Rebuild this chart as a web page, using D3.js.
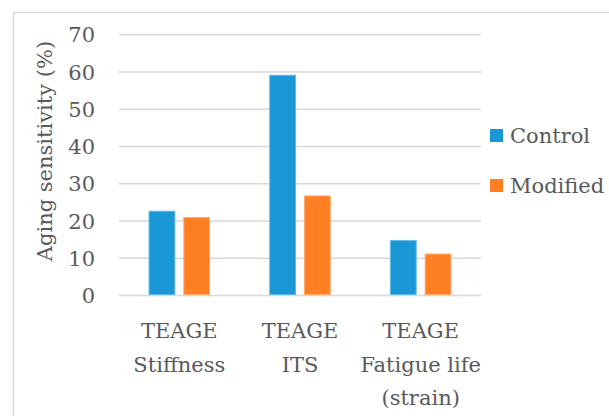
<!DOCTYPE html>
<html>
<head>
<meta charset="utf-8">
<script src="https://cdn.jsdelivr.net/npm/d3@7"></script>
<style>
  html, body { margin: 0; padding: 0; background: #fff; }
  svg { display: block; }
  text { font-family: "DejaVu Serif", "Liberation Serif", serif; fill: #595959; }
</style>
</head>
<body>
<svg id="chart" width="609" height="416"></svg>
<script>
const categories = [["TEAGE", "Stiffness"], ["TEAGE", "ITS"], ["TEAGE", "Fatigue life", "(strain)"]];
const seriesNames = ["Control", "Modified"];
const controlValues = [22.5, 59.0, 14.6];
const modifiedValues = [20.8, 26.6, 11.0];
const yTicks = [0, 10, 20, 30, 40, 50, 60, 70];
const yTitle = "Aging sensitivity (%)";
const colors = ["#1a98d5", "#ff7f22"];
const strokes = ["#5fb8e6", "#ffab6e"];

const svg = d3.select("#chart");
const fs = 21;

// frame
svg.append("rect").attr("x", 13.5).attr("y", 12.5).attr("width", 620).attr("height", 420)
  .attr("fill", "none").attr("stroke", "#d9d9d9").attr("stroke-width", 1.5);

const plot = { left: 119, right: 481, top: 34.3, bottom: 295 };
const y = d3.scaleLinear().domain([0, 70]).range([plot.bottom, plot.top]);
const x = d3.scaleBand().domain(d3.range(categories.length)).range([plot.left, plot.right])
  .paddingInner(0.49).paddingOuter(0.245);
const xs = d3.scaleBand().domain(seriesNames).range([0, x.bandwidth()]).paddingInner(0.23);

// gridlines
const yAxis = d3.axisLeft(y).tickValues(yTicks).tickSize(-(plot.right - plot.left)).tickPadding(24);
const gy = svg.append("g").attr("transform", `translate(${plot.left},0)`).call(yAxis);
gy.select(".domain").remove();
gy.selectAll(".tick line").attr("stroke", "#d9d9d9").attr("stroke-width", 1.5);
gy.selectAll(".tick text").attr("font-size", fs).attr("fill", "#595959")
  .attr("font-family", '"DejaVu Serif", "Liberation Serif", serif').attr("dy", "0.36em");

// bars
const series = [controlValues, modifiedValues];
const data = [];
categories.forEach((c, i) => seriesNames.forEach((s, j) => data.push({ i, s, j, v: series[j][i] })));
svg.append("g").selectAll("rect").data(data).join("rect")
  .attr("x", d => x(d.i) + xs(d.s) + 0.5)
  .attr("y", d => y(d.v))
  .attr("width", xs.bandwidth() - 1)
  .attr("height", d => y(0) - y(d.v) - 0.5)
  .attr("fill", d => colors[d.j])
  .attr("stroke", d => strokes[d.j]).attr("stroke-width", 1);

// category labels
const xl = svg.append("g");
categories.forEach((lines, i) => {
  const t = xl.append("text").attr("text-anchor", "middle").attr("font-size", fs)
    .attr("x", x(i) + x.bandwidth() / 2).attr("y", 338);
  lines.forEach((ln, k) => t.append("tspan").attr("x", x(i) + x.bandwidth() / 2)
    .attr("y", 338 + k * 33.5).text(ln));
});

// y title
svg.append("text").attr("transform", "translate(52,151) rotate(-90)")
  .attr("text-anchor", "middle").attr("font-size", fs).text(yTitle);

// legend
const lg = svg.append("g");
seriesNames.forEach((s, j) => {
  const yy = 129 + j * 50;
  lg.append("rect").attr("x", 490).attr("y", yy).attr("width", 13).attr("height", 13)
    .attr("fill", colors[j]);
  lg.append("text").attr("x", 510).attr("y", yy + 14).attr("font-size", fs).text(s);
});
</script>
</body>
</html>
